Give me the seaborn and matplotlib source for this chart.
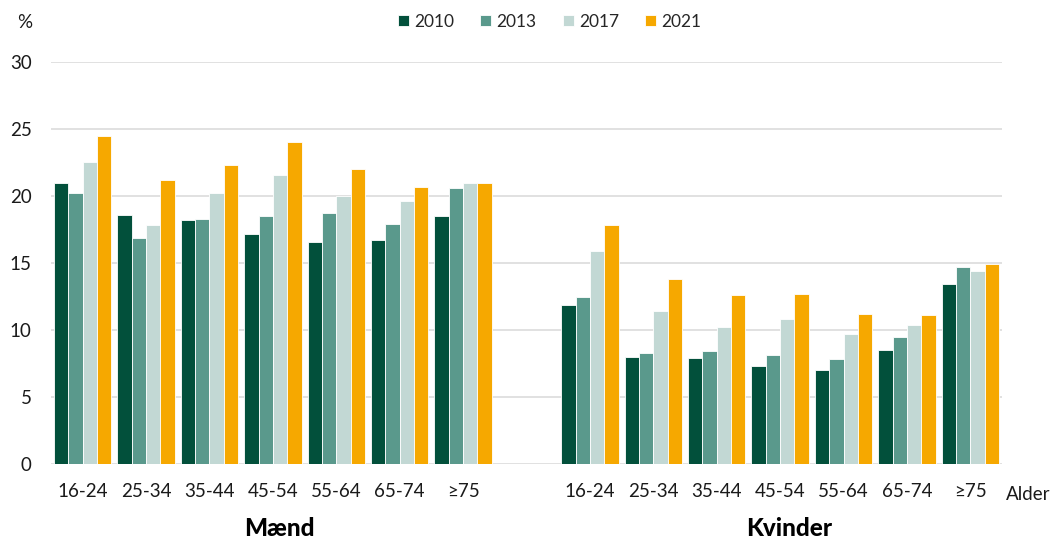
import matplotlib
matplotlib.use("Agg")
import matplotlib.pyplot as plt
import seaborn as sns
import pandas as pd

# Age bands and survey years
ages = ["16-24", "25-34", "35-44", "45-54", "55-64", "65-74", "≥75"]
years = ["2010", "2013", "2017", "2021"]

# Share (%) by age band for each survey year
men_2010 = [21.0, 18.6, 18.2, 17.2, 16.6, 16.7, 18.5]
men_2013 = [20.2, 16.9, 18.3, 18.5, 18.7, 17.9, 20.6]
men_2017 = [22.5, 17.8, 20.2, 21.6, 20.0, 19.6, 21.0]
men_2021 = [24.5, 21.2, 22.3, 24.0, 22.0, 20.7, 21.0]

women_2010 = [11.9, 8.0, 7.9, 7.3, 7.0, 8.5, 13.4]
women_2013 = [12.5, 8.3, 8.4, 8.1, 7.8, 9.5, 14.7]
women_2017 = [15.9, 11.4, 10.2, 10.8, 9.7, 10.4, 14.4]
women_2021 = [17.8, 13.8, 12.6, 12.7, 11.2, 11.1, 14.9]

colors = {"2010": "#02503B", "2013": "#5A998C", "2017": "#C2D8D4", "2021": "#F6A800"}

rows = []
for sex, series in (("Mænd", [men_2010, men_2013, men_2017, men_2021]),
                    ("Kvinder", [women_2010, women_2013, women_2017, women_2021])):
    for year, vals in zip(years, series):
        for age, v in zip(ages, vals):
            rows.append({"slot": f"{sex}|{age}", "year": year, "value": v})
df = pd.DataFrame(rows)

# One empty slot separates the two groups
order = [f"Mænd|{a}" for a in ages] + ["gap"] + [f"Kvinder|{a}" for a in ages]

sns.set_theme(style="white")
plt.rcParams["font.family"] = ["Lato", "DejaVu Sans"]

fig = plt.figure(figsize=(10.53, 5.40), dpi=100)
ax = fig.add_axes([0.0484, 0.1407, 0.9032, 0.7445])

sns.barplot(data=df, x="slot", y="value", hue="year", order=order,
            hue_order=years, palette=colors, width=0.905, gap=0,
            edgecolor="white", linewidth=0.6, saturation=1, ax=ax)

ax.set_ylim(0, 30)
ax.set_xlim(-0.5, len(order) - 0.5)
ax.set_yticks(range(0, 31, 5))
ax.set_yticklabels([str(v) for v in range(0, 31, 5)], fontsize=13.5, color="#1a1a1a")
ax.set_xticks(range(len(order)))
ax.set_xticklabels([s.split("|")[1] if "|" in s else "" for s in order],
                   fontsize=13.5, color="#1a1a1a")
ax.tick_params(axis="both", length=0)
ax.tick_params(axis="y", pad=14)
ax.tick_params(axis="x", pad=14)
ax.set_xlabel("")
ax.set_ylabel("")
for sp in ax.spines.values():
    sp.set_visible(False)
ax.yaxis.grid(True, color="#D9D9D9", linewidth=1.1)
ax.set_axisbelow(True)

handles, labels = ax.get_legend_handles_labels()
ax.legend_.remove() if ax.legend_ else None
fig.legend(handles, labels, loc="center", bbox_to_anchor=(0.522, 0.96), ncol=4,
           frameon=False, fontsize=12.5, handlelength=0.63, handleheight=0.63,
           handletextpad=0.3, columnspacing=1.5)

fig.text(25 / 1053, 1 - 22 / 540, "%", fontsize=13.5, ha="center", va="center", color="#1a1a1a")
fig.text(1028 / 1053, 1 - 494 / 540, "Alder", fontsize=13.5, ha="center", va="center", color="#1a1a1a")
fig.text(279 / 1053, 1 - 528 / 540, "Mænd", fontsize=17.5, fontweight="black",
         ha="center", va="center", color="#000000")
fig.text(789 / 1053, 1 - 528 / 540, "Kvinder", fontsize=17.5, fontweight="black",
         ha="center", va="center", color="#000000")

fig.savefig("out.png", dpi=100)
